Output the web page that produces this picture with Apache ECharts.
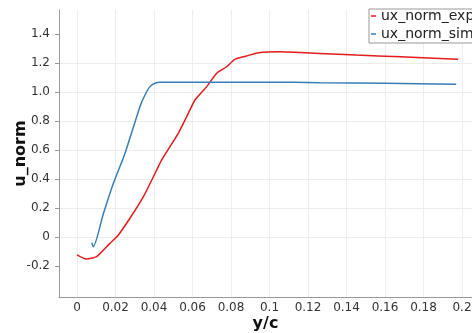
<!DOCTYPE html>
<html>
<head>
<meta charset="utf-8">
<script src="https://cdn.jsdelivr.net/npm/echarts@6/dist/echarts.min.js"></script>
<style>
html,body{margin:0;padding:0;background:#fff;}
#chart{width:472px;height:333px;}
</style>
</head>
<body>
<div id="chart"></div>
<script>
// Data
var expX = [0, 0.0047, 0.0102, 0.0171, 0.0215, 0.0275, 0.0345, 0.0414, 0.044, 0.0483, 0.0526, 0.057, 0.0613, 0.0674, 0.0726, 0.0777, 0.082, 0.0881, 0.0942, 0.1055, 0.116, 0.126, 0.145, 0.168, 0.198];
var expY = [-0.124, -0.152, -0.136, -0.044, 0.014, 0.129, 0.278, 0.462, 0.531, 0.623, 0.715, 0.83, 0.945, 1.037, 1.129, 1.174, 1.225, 1.248, 1.271, 1.278, 1.272, 1.266, 1.255, 1.243, 1.226];
var simX = [0.0078, 0.0084, 0.0137, 0.0189, 0.025, 0.0327, 0.0353, 0.0379, 0.0405, 0.0431, 0.06, 0.1, 0.126, 0.16, 0.197];
var simY = [-0.04, -0.068, 0.16, 0.37, 0.58, 0.899, 0.979, 1.037, 1.06, 1.067, 1.068, 1.068, 1.064, 1.06, 1.053];
var xTickLabels = ['0', '0.02', '0.04', '0.06', '0.08', '0.1', '0.12', '0.14', '0.16', '0.18', '0.2'];
var yTickLabels = ['-0.2', '0', '0.2', '0.4', '0.6', '0.8', '1.0', '1.2', '1.4'];
var seriesNames = ['ux_norm_exp', 'ux_norm_sim'];

function pairs(xs, ys) { return xs.map(function (x, i) { return [x, ys[i]]; }); }
function fmtX(v) { var r = Math.round(v * 1000) / 1000; return r === 0 ? '0' : String(+r.toFixed(2)); }
function fmtY(v) { var r = Math.round(v * 100) / 100; return r === 0 ? '0' : r.toFixed(1); }
var xTickVals = xTickLabels.map(Number);
var yTickVals = yTickLabels.map(Number);

var FONT = 'DejaVu Sans';
var chart = echarts.init(document.getElementById('chart'), null, {renderer: 'canvas'});
chart.setOption({
  animation: false,
  backgroundColor: '#fff',
  grid: {left: 59, right: 0, top: 10, bottom: 36, containLabel: false, outerBoundsMode: 'none'},
  legend: {
    orient: 'vertical', left: 369, top: 9,
    padding: [0, 3, 2, 2], itemGap: 4,
    itemWidth: 5, itemHeight: 1.5, icon: 'rect',
    borderColor: '#999', borderWidth: 1, backgroundColor: '#fff',
    textStyle: {fontFamily: FONT, fontSize: 14, color: '#222', lineHeight: 14},
    data: seriesNames
  },
  xAxis: {
    type: 'value', min: -0.00935, max: 0.2052, splitNumber: 10,
    name: 'y/c', nameLocation: 'middle', nameGap: 19, nameMoveOverlap: false,
    nameTextStyle: {fontFamily: FONT, fontSize: 16, fontWeight: 'bold', color: '#111'},
    axisLine: {show: true, onZero: false, lineStyle: {color: '#999', width: 1}},
    axisTick: {show: false},
    axisLabel: {
      fontFamily: FONT, fontSize: 12, color: '#333', margin: 5,
      customValues: xTickVals,
      formatter: function (v) { return fmtX(v); }
    },
    splitLine: {show: true, showMinLine: false, showMaxLine: false, lineStyle: {color: '#ededed', width: 1}}
  },
  yAxis: {
    type: 'value', min: -0.414, max: 1.5655, splitNumber: 10,
    name: 'u_norm', nameLocation: 'middle', nameGap: 30, nameRotate: 90, nameMoveOverlap: false,
    nameTextStyle: {fontFamily: FONT, fontSize: 16, fontWeight: 'bold', color: '#111'},
    axisLine: {show: true, onZero: false, lineStyle: {color: '#999', width: 1}},
    axisTick: {show: true, length: 4, customValues: yTickVals, lineStyle: {color: '#999'}},
    axisLabel: {
      fontFamily: FONT, fontSize: 12, color: '#333', margin: 9,
      customValues: yTickVals,
      formatter: function (v) { return fmtY(v); }
    },
    splitLine: {show: true, showMinLine: false, showMaxLine: false, lineStyle: {color: '#ededed', width: 1}}
  },
  series: [
    {name: seriesNames[0], type: 'line', data: pairs(expX, expY), showSymbol: false, smooth: 0.2,
     lineStyle: {color: '#e41a1c', width: 1.5}, itemStyle: {color: '#e41a1c'}},
    {name: seriesNames[1], type: 'line', data: pairs(simX, simY), showSymbol: false, smooth: 0.25,
     lineStyle: {color: '#377eb8', width: 1.5}, itemStyle: {color: '#377eb8'}}
  ]
});
</script>
</body>
</html>
